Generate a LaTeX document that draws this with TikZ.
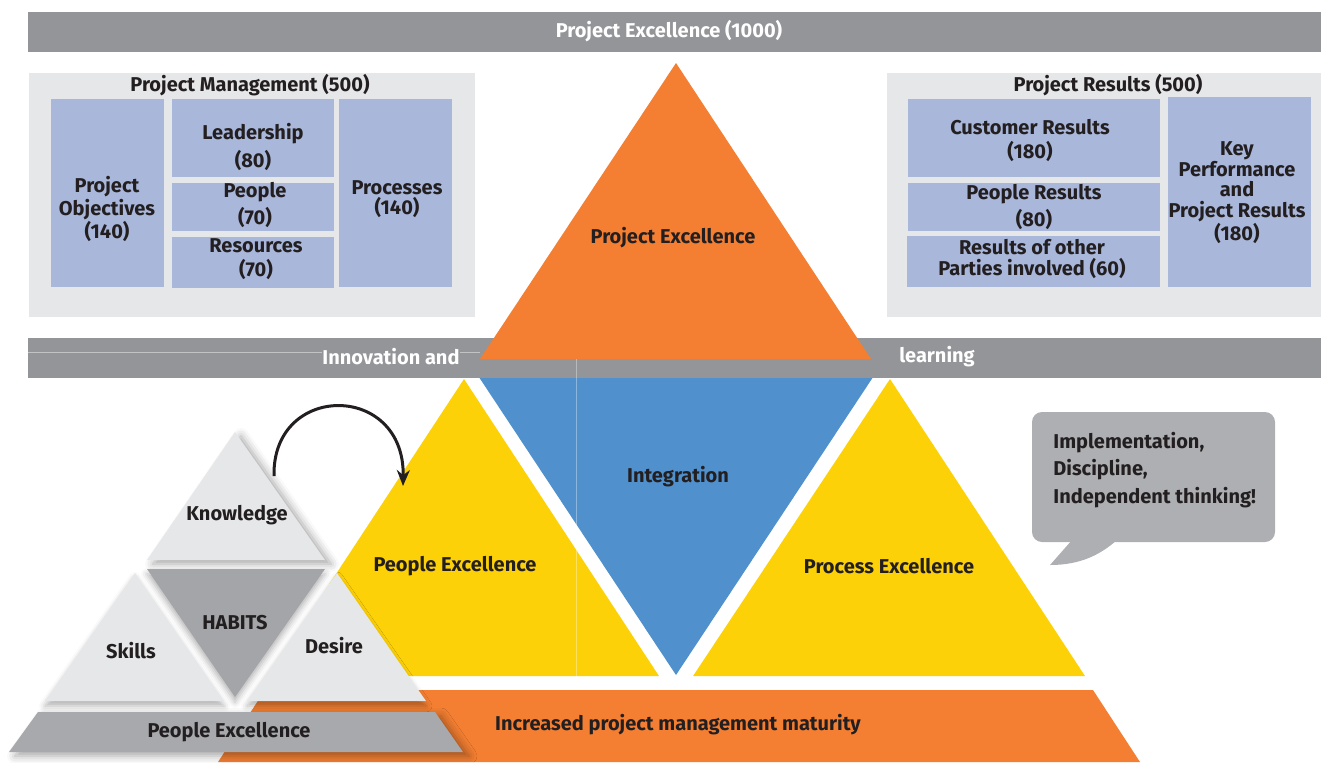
\documentclass[tikz,border=0pt]{standalone}
\usepackage{fontspec}
\setmainfont{Fira Sans}
\usetikzlibrary{arrows.meta,shadows.blur}
\definecolor{bargray}{HTML}{939598}
\definecolor{panelgray}{HTML}{E6E7E8}
\definecolor{boxblue}{HTML}{A9B7DB}
\definecolor{exorange}{HTML}{F47F32}
\definecolor{exyellow}{HTML}{FDD107}
\definecolor{exblue}{HTML}{4F90CD}
\definecolor{habitgray}{HTML}{A4A5A8}
\definecolor{basegray}{HTML}{A7A9AC}
\definecolor{bubblegray}{HTML}{AEAFB2}
\definecolor{txtdark}{HTML}{231F20}
\begin{document}
\begin{tikzpicture}[x=0.5pt,y=-0.5pt,
  lbl/.style={text=txtdark,font=\fontsize{10}{10.25}\selectfont\bfseries,align=center,inner sep=0pt},
  wlbl/.style={lbl,text=white},
  pyr/.style={fill=panelgray,blur shadow={shadow xshift=3pt,shadow yshift=-2pt,shadow blur radius=4pt,shadow opacity=35}},
  pyrlow/.style={fill=panelgray,blur shadow={shadow xshift=0pt,shadow yshift=-2.5pt,shadow blur radius=3pt,shadow opacity=30}}]
\useasboundingbox (0,0) rectangle (1321,762);

\fill[bargray] (28,12) rectangle (1321,52);
\node[wlbl] (top) at (669,31) {Project Excellence (1000)};

\fill[panelgray] (29,73) rectangle (475,317);
\fill[boxblue] (51,99) rectangle (164,287);
\fill[boxblue] (172,99) rectangle (334,177);
\fill[boxblue] (172,183) rectangle (334,231);
\fill[boxblue] (172,237) rectangle (334,288);
\fill[boxblue] (339,99) rectangle (452,287);
\node[lbl] (pm) at (250,85) {Project Management (500)};
\node[lbl] (pmobj) at (107,209) {Project\\Objectives\\(140)};
\node[lbl] (lead) at (253,147) {Leadership\\[1.75pt](80)};
\node[lbl] (ppl) at (255,205) {People\\[1.75pt](70)};
\node[lbl] (res) at (256,259) {Resources\\[1.75pt](70)};
\node[lbl] (proc) at (397,199) {Processes\\(140)};

\fill[panelgray] (887,73) rectangle (1321,317);
\fill[boxblue] (908,99) rectangle (1160,177);
\fill[boxblue] (908,183) rectangle (1160,231);
\fill[boxblue] (907,236) rectangle (1160,287);
\fill[boxblue] (1168,97) rectangle (1311,287);
\node[lbl] (pr) at (1108,85) {Project Results (500)};
\node[lbl] (cust) at (1030,140) {Customer Results\\[1.75pt](180)};
\node[lbl] (pplres) at (1034,207) {People Results\\[1.75pt](80)};
\node[lbl] (other) at (1032,259) {Results of other\\Parties involved (60)};
\node[lbl] (kpi) at (1237,193) {Key\\Performance\\and\\Project Results\\(180)};

\fill[exblue] (467,359) -- (885,359) -- (676,675) -- cycle;
\fill[bargray] (28,338) rectangle (1321,378);
\draw[basegray!70!white,line width=0.3pt] (28,352) -- (322,352) (460,352) -- (480,352);
\fill[exorange] (676,63) -- (871,359) -- (480,359) -- cycle;
\node[wlbl] (innov) at (391,357) {Innovation and};
\node[wlbl] (learn) at (937,357) {learning};
\node[lbl] (exc) at (673,238) {Project Excellence};

\fill[exyellow] (464,379) -- (659,676) -- (269,676) -- cycle;
\fill[exyellow] (890,379) -- (1085,676) -- (693,676) -- cycle;
\draw[white,opacity=0.35,line width=0.3pt] (576,359) -- (576,689);
\fill[exorange] (265,690) -- (1093,690) -- (1140,762) -- (218,762) -- cycle;
\node[lbl] (integ) at (678,477) {Integration};
\node[lbl] (pplexc) at (455,566) {People Excellence};
\node[lbl] (procexc) at (889,566) {Process Excellence};
\node[lbl] (maturity) at (678,725) {Increased project management maturity};

\fill[pyr] (235,432) -- (325,560) -- (147,560) -- cycle;
\fill[pyrlow] (135,573) -- (224,701) -- (45,701) -- cycle;
\fill[pyrlow] (337,573) -- (426,701) -- (247,701) -- cycle;
\fill[pyrlow,fill=habitgray] (147,569) -- (325,569) -- (235,697) -- cycle;
\fill[pyr,fill=basegray] (38,712) -- (435,712) -- (463,752) -- (9,752) -- cycle;
\node[lbl] (know) at (237,515) {Knowledge};
\node[lbl] (habits) at (235,623) {HABITS};
\node[lbl] (skills) at (131,651) {Skills};
\node[lbl] (desire) at (334,646) {Desire};
\node[lbl] (pplbase) at (229,732) {People Excellence};

\coordinate (arcstart) at (274,476);
\coordinate (arcend) at (403,486);
\draw[txtdark,line width=1.5pt,-{Stealth[length=8pt,width=6.5pt]}] (arcstart) .. controls (272,382) and (405,382) .. (arcend);

\fill[bubblegray,rounded corners=5pt] (1032,412) rectangle (1275,542);
\fill[bubblegray] (1072,540) -- (1050,565) .. controls (1080,565) and (1100,555) .. (1117,540) -- cycle;
\node[lbl,align=left,anchor=west] (bubble) at (1053,470) {Implementation,\\[2.25pt]Discipline,\\[2.25pt]Independent thinking!};
\end{tikzpicture}
\end{document}
